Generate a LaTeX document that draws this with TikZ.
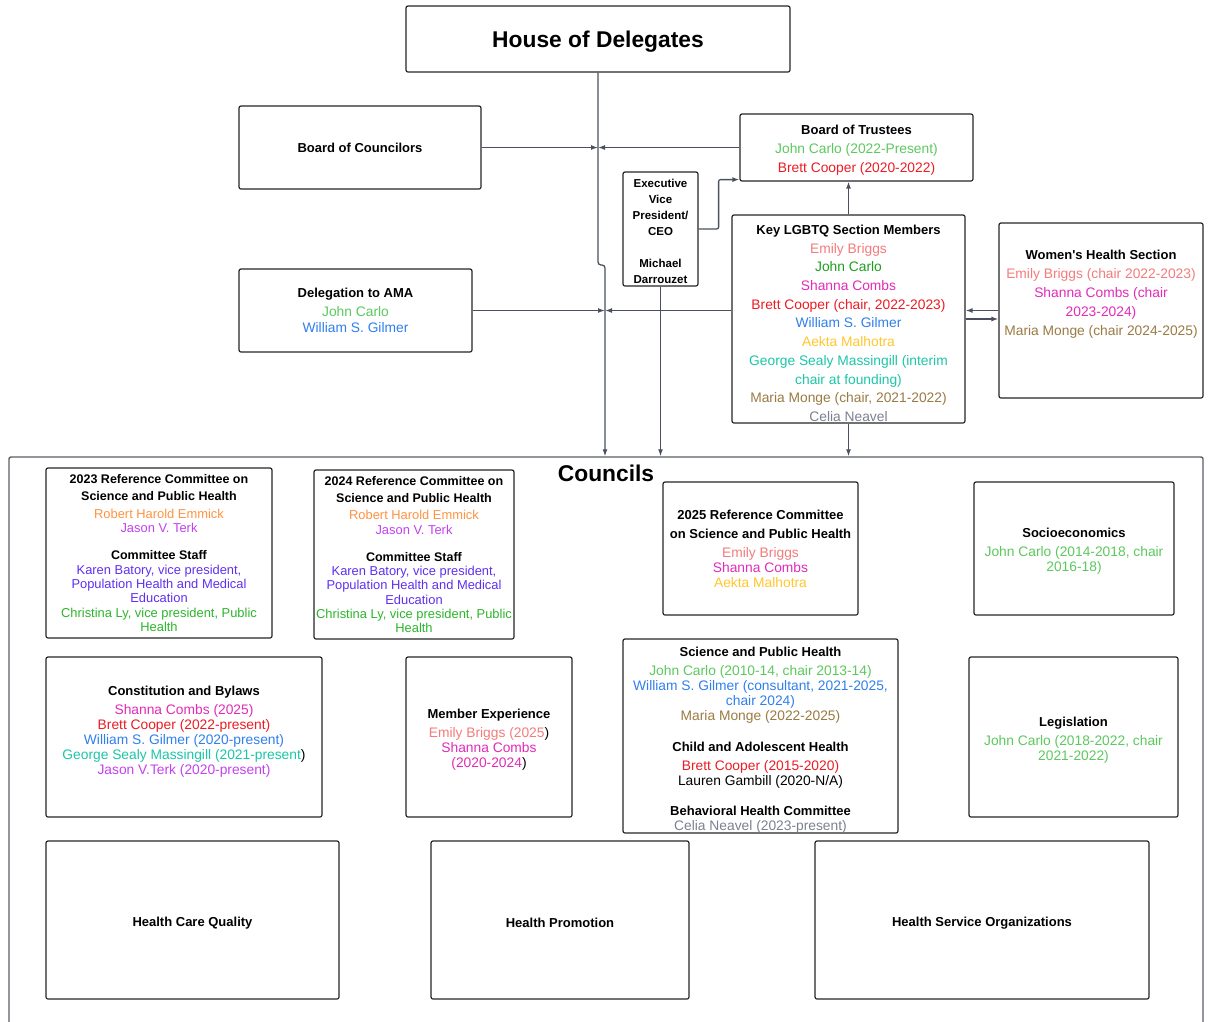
\documentclass[tikz,border=0pt]{standalone}
\usepackage{fontspec}
\setmainfont{Liberation Sans}
\usetikzlibrary{arrows.meta,positioning}
\definecolor{carlo}{HTML}{5CC95E}
\definecolor{carlodk}{HTML}{1E9E1E}
\definecolor{briggs}{HTML}{F47C7C}
\definecolor{combs}{HTML}{E22BB8}
\definecolor{cooper}{HTML}{EC1C24}
\definecolor{gilmer}{HTML}{2F80ED}
\definecolor{malhotra}{HTML}{FFC72C}
\definecolor{massingill}{HTML}{1CC6A8}
\definecolor{monge}{HTML}{9A7B43}
\definecolor{neavel}{HTML}{7C8190}
\definecolor{emmick}{HTML}{FF9340}
\definecolor{terk}{HTML}{C341F0}
\definecolor{batory}{HTML}{6030F0}
\definecolor{ly}{HTML}{2DB52D}
\definecolor{linkgray}{HTML}{4A505E}
\definecolor{framegray}{HTML}{5A5E66}
\newcommand\ttl[1]{{\fontsize{13}{15}\selectfont\bfseries #1}}
\newcommand\rttl[1]{{\fontsize{12.5}{14}\selectfont\bfseries #1}}
\newcommand\who[2]{\textcolor{#1}{#2}}
\newcommand\lift[1]{\rule{0pt}{#1pt}}
\tikzset{
  box/.style={draw=black!85, line width=1.2pt, rounded corners=2pt, fill=white,
    align=center, inner sep=1pt},
  boxsize/.style 2 args={minimum width=#1pt, minimum height=#2pt},
  loose/.style={font=\fontsize{13.8}{19}\selectfont},
  packed/.style={font=\fontsize{13.8}{15}\selectfont},
  refc/.style={font=\fontsize{12.9}{14.3}\selectfont},
  bigtitle/.style={font=\fontsize{22.8}{27}\selectfont\bfseries},
  link/.style={draw=linkgray, line width=1.3pt}
}

\begin{document}
\begin{tikzpicture}[x=1pt, y=-1pt, >={Latex[length=7pt,width=5pt]}]
\useasboundingbox[fill=white] (0,0) rectangle (1208,1021);
% governance
\node[box, boxsize={384}{66}, bigtitle] (hod) at (598,39) {\lift{21}House of Delegates};
\node[box, boxsize={242}{83}, loose] (councilors) at (360,147.5) {\ttl{Board of Councilors}};
\node[box, boxsize={233}{67}, loose] (trustees) at (856.5,147.5)
  {\lift{14}\ttl{Board of Trustees}\\ \who{carlo}{John Carlo (2022-Present)}\\
   \who{cooper}{Brett Cooper (2020-2022)}};
\node[box, boxsize={75}{114}, font=\fontsize{11.5}{16}\selectfont\bfseries] (evp) at (660.5,229)
  {\lift{13}Executive\\ Vice\\ President/\\ CEO\\[16pt] Michael\\ Darrouzet};
\node[box, boxsize={233}{208}, font=\fontsize{13.8}{18.7}\selectfont, inner ysep=0pt] (lgbtq) at (848.5,319)
  {\lift{18}\ttl{Key LGBTQ Section Members}\\ \who{briggs}{Emily Briggs}\\
   \who{carlodk}{John Carlo}\\ \who{combs}{Shanna Combs}\\
   \who{cooper}{Brett Cooper (chair, 2022-2023)}\\ \who{gilmer}{William S. Gilmer}\\
   \who{malhotra}{Aekta Malhotra}\\ \who{massingill}{George Sealy Massingill (interim}\\
   \who{massingill}{chair at founding)}\\ \who{monge}{Maria Monge (chair, 2021-2022)}\\
   \who{neavel}{Celia Neavel}};
\node[box, boxsize={204}{175}, loose] (womens) at (1101,310.5)
  {\ttl{Women\textquotesingle s Health Section}\\ \who{briggs}{Emily Briggs (chair 2022-2023)}\\
   \who{combs}{Shanna Combs (chair}\\ \who{combs}{2023-2024)}\\
   \who{monge}{Maria Monge (chair 2024-2025)}\\[16pt]~};
\node[box, boxsize={233}{83}, font=\fontsize{13.8}{16}\selectfont] (delegation) at (355.5,310.5)
  {\ttl{Delegation to AMA}\\[3pt] \who{carlo}{John Carlo}\\ \who{gilmer}{William S. Gilmer}};
% councils
\node[draw=framegray, line width=1.4pt, rounded corners=2pt, boxsize={1194}{578}] (councils) at (606,746) {};
\node[bigtitle] (councilstitle) at (606,473) {Councils};
\node[box, boxsize={226}{170}, refc] (ref23) at (159,553)
  {\rttl{2023 Reference Committee on}\\[3pt] \rttl{Science and Public Health}\\[3pt]
   \who{emmick}{Robert Harold Emmick}\\ \who{terk}{Jason V. Terk}\\[13pt]
   \rttl{Committee Staff}\\ \who{batory}{Karen Batory, vice president,}\\
   \who{batory}{Population Health and Medical}\\ \who{batory}{Education}\\
   \who{ly}{Christina Ly, vice president, Public}\\ \who{ly}{Health}};
\node[box, boxsize={200}{169}, refc] (ref24) at (414,554.5)
  {\rttl{2024 Reference Committee on}\\[3pt] \rttl{Science and Public Health}\\[3pt]
   \who{emmick}{Robert Harold Emmick}\\ \who{terk}{Jason V. Terk}\\[13pt]
   \rttl{Committee Staff}\\ \who{batory}{Karen Batory, vice president,}\\
   \who{batory}{Population Health and Medical}\\ \who{batory}{Education}\\
   \who{ly}{Christina Ly, vice president, Public}\\ \who{ly}{Health}};
\node[box, boxsize={195}{133}, packed] (ref25) at (760.5,548.5)
  {\ttl{2025 Reference Committee}\\[4pt] \ttl{on Science and Public Health}\\[4pt]
   \who{briggs}{Emily Briggs}\\ \who{combs}{Shanna Combs}\\ \who{malhotra}{Aekta Malhotra}};
\node[box, boxsize={200}{133}, packed] (socio) at (1074,548.5)
  {\lift{15}\ttl{Socioeconomics}\\[4pt] \who{carlo}{John Carlo (2014-2018, chair}\\ \who{carlo}{2016-18)}};
\node[box, boxsize={276}{160}, packed] (constitution) at (184,737)
  {\lift{15}\ttl{Constitution and Bylaws}\\[4pt] \who{combs}{Shanna Combs (2025)}\\
   \who{cooper}{Brett Cooper (2022-present)}\\ \who{gilmer}{William S. Gilmer (2020-present)}\\
   \who{massingill}{George Sealy Massingill (2021-present})\\
   \who{terk}{Jason V.Terk (2020-present)}\\[5pt]~};
\node[box, boxsize={166}{160}, packed] (memberexp) at (489,737)
  {\lift{15}\ttl{Member Experience}\\[4pt] \who{briggs}{Emily Briggs (2025})\\
   \who{combs}{Shanna Combs}\\ \who{combs}{(2020-2024})};
\node[box, boxsize={275}{194}, packed, inner ysep=0pt] (science) at (760.5,736)
  {\lift{17}\ttl{Science and Public Health}\\[4pt] \who{carlo}{John Carlo (2010-14, chair 2013-14)}\\
   \who{gilmer}{William S. Gilmer (consultant, 2021-2025,}\\ \who{gilmer}{chair 2024)}\\
   \who{monge}{Maria Monge (2022-2025)}\\[16pt]
   \ttl{Child and Adolescent Health}\\[4pt] \who{cooper}{Brett Cooper (2015-2020)}\\
   Lauren Gambill (2020-N/A)\\[15pt]
   \ttl{Behavioral Health Committee}\\ \who{neavel}{Celia Neavel (2023-present)}};
\node[box, boxsize={209}{160}, packed] (legislation) at (1073.5,737)
  {\lift{15}\ttl{Legislation}\\[4pt] \who{carlo}{John Carlo (2018-2022, chair}\\ \who{carlo}{2021-2022)}};
\node[box, boxsize={293}{158}, packed] (quality) at (192.5,920) {\lift{15}\ttl{Health Care Quality}};
\node[box, boxsize={258}{158}, packed] (promotion) at (560,920) {\lift{15}\ttl{Health Promotion}};
\node[box, boxsize={334}{158}, packed] (hso) at (982,920) {\lift{15}\ttl{Health Service Organizations}};
% connectors
\coordinate (jog) at (605,265);
\draw[link,->,rounded corners=3pt] (hod.south) |- (jog) -- (jog |- councils.north);
\draw[link,->] (councilors.east) -- (councilors.east -| hod.south);
\draw[link,->] (trustees.west) -- (trustees.west -| hod.south);
\draw[link,->] (delegation.east) -- (delegation.east -| jog);
\draw[link,->] (lgbtq.west |- delegation.east) -- (delegation.east -| jog);
\draw[link,->] (evp.south) -- (evp.south |- councils.north);
\draw[link,->,rounded corners=2pt] (evp.east) -- ++(20,0) |- ([yshift=2pt]trustees.south west);
\draw[link,->] (lgbtq.north) -- (lgbtq.north |- trustees.south);
\draw[link,->] (lgbtq.south) -- (lgbtq.south |- councils.north);
\draw[link,->] (womens.west) -- (womens.west -| lgbtq.east);
\draw[link,->] (lgbtq.east) -- (lgbtq.east -| womens.west);
\end{tikzpicture}
\end{document}
